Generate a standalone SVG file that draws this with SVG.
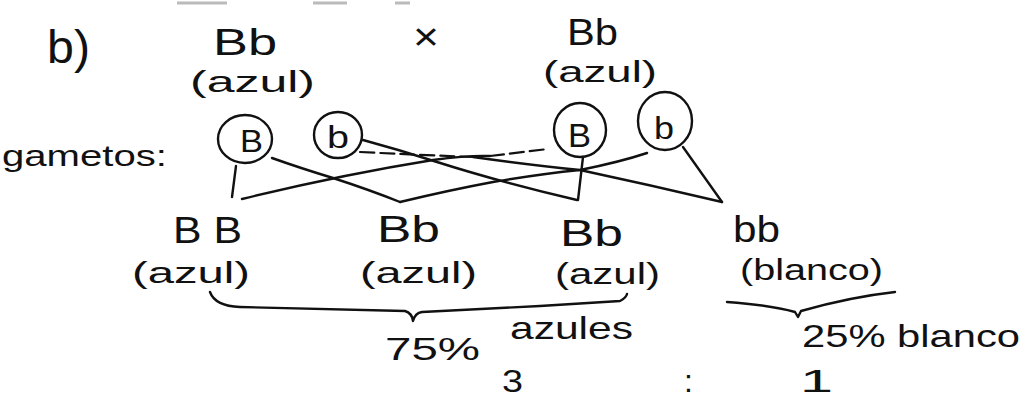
<svg xmlns="http://www.w3.org/2000/svg" width="1022" height="401" viewBox="0 0 1022 401">
<style>
text{font-family:"Liberation Sans","DejaVu Sans",sans-serif;fill:#111}
.g{font-size:37px}
.p{font-size:30px}
.m{font-size:32px}
.c{fill:none;stroke:#111;stroke-width:2.4}
.l{fill:none;stroke:#111;stroke-width:2.4;stroke-linecap:round;stroke-linejoin:round}
.d{fill:none;stroke:#111;stroke-width:2.2;stroke-dasharray:14 6;stroke-linecap:round}
.s{fill:none;stroke:#bbb;stroke-width:3}
</style>
<rect width="1022" height="401" fill="#fff"/>
<g id="artifacts">
<line class="s" x1="177" y1="3" x2="227" y2="3"/>
<line class="s" x1="313" y1="3" x2="347" y2="3"/>
<line class="s" x1="395" y1="3" x2="410" y2="3"/>
</g>
<g id="label-b"><text x="47" y="63" font-size="46" textLength="43" lengthAdjust="spacingAndGlyphs">b)</text></g>
<g id="parent1">
<text class="g" x="213" y="55" textLength="64" lengthAdjust="spacingAndGlyphs">Bb</text>
<text class="p" x="190" y="92" textLength="125" lengthAdjust="spacingAndGlyphs">(azul)</text>
</g>
<g id="cross"><text x="413" y="50" font-size="38" textLength="26" lengthAdjust="spacingAndGlyphs">×</text></g>
<g id="parent2">
<text class="g" x="567" y="45" textLength="51" lengthAdjust="spacingAndGlyphs">Bb</text>
<text class="p" x="543" y="82" textLength="114" lengthAdjust="spacingAndGlyphs">(azul)</text>
</g>
<g id="gametos-label"><text x="2" y="166" font-size="30" textLength="165" lengthAdjust="spacingAndGlyphs">gametos:</text></g>
<g id="gamete-B1">
<ellipse class="c" cx="245" cy="139" rx="27" ry="24"/>
<text x="240" y="152" font-size="32" textLength="23" lengthAdjust="spacingAndGlyphs">B</text>
</g>
<g id="gamete-b1">
<ellipse class="c" cx="338" cy="135" rx="24" ry="23"/>
<text x="327" y="148" font-size="31" textLength="22" lengthAdjust="spacingAndGlyphs">b</text>
</g>
<g id="gamete-B2">
<ellipse class="c" cx="580" cy="130" rx="26" ry="27"/>
<text x="568" y="147" font-size="33" textLength="23" lengthAdjust="spacingAndGlyphs">B</text>
</g>
<g id="gamete-b2">
<ellipse class="c" cx="665" cy="121" rx="27" ry="29"/>
<text x="654" y="139" font-size="32" textLength="20" lengthAdjust="spacingAndGlyphs">b</text>
</g>
<g id="connectors">
<path class="l" d="M236,166 L232,197"/>
<path class="l" d="M242,199 Q340,175 433,160 Q470,155 490,156"/>
<path class="d" d="M490,156 L548,149"/>
<path class="l" d="M272,158 Q300,168 333,178 Q370,190 400,202"/>
<path class="l" d="M400,202 Q450,190 493,182 Q540,174 580,170 Q620,162 647,153"/>
<path class="l" d="M363,140 Q400,150 437,162 Q500,182 577,200"/>
<path class="d" d="M360,152 Q420,155 473,157"/>
<path class="l" d="M473,157 Q530,165 580,170 Q650,185 722,202"/>
<path class="l" d="M583,157 L578,200"/>
<path class="l" d="M683,147 L722,202"/>
</g>
<g id="child-BB">
<text class="g" x="173" y="243" textLength="69" lengthAdjust="spacingAndGlyphs">B B</text>
<text class="p" x="132" y="283" textLength="118" lengthAdjust="spacingAndGlyphs">(azul)</text>
</g>
<g id="child-Bb1">
<text class="g" x="377" y="242" textLength="63" lengthAdjust="spacingAndGlyphs">Bb</text>
<text class="p" x="360" y="283" textLength="117" lengthAdjust="spacingAndGlyphs">(azul)</text>
</g>
<g id="child-Bb2">
<text class="g" x="560" y="246" textLength="63" lengthAdjust="spacingAndGlyphs">Bb</text>
<text class="p" x="555" y="284" textLength="105" lengthAdjust="spacingAndGlyphs">(azul)</text>
</g>
<g id="child-bb">
<text class="g" x="733" y="242" textLength="47" lengthAdjust="spacingAndGlyphs">bb</text>
<text class="p" x="740" y="280" textLength="143" lengthAdjust="spacingAndGlyphs">(blanco)</text>
</g>
<g id="braces">
<path class="l" d="M210,292 Q215,306 240,307 L405,311 Q412,313 413,321 Q415,313 422,312 L540,306 L620,301 Q626,298 627,294"/>
<path class="l" d="M727,302 Q770,305 795,312 L798,317 L801,311 Q850,297 895,292"/>
</g>
<g id="summary">
<text class="m"><tspan x="385" y="360" textLength="95" lengthAdjust="spacingAndGlyphs">75%</tspan><tspan x="510" y="339" textLength="123" lengthAdjust="spacingAndGlyphs">azules</tspan></text>
<text class="m" x="802" y="347" textLength="218" lengthAdjust="spacingAndGlyphs">25% blanco</text>
<text class="m" x="502" y="392" textLength="21" lengthAdjust="spacingAndGlyphs">3</text>
<text class="m" x="684" y="392">:</text>
<text class="m" x="800" y="392" textLength="33" lengthAdjust="spacingAndGlyphs">1</text>
</g>
</svg>
